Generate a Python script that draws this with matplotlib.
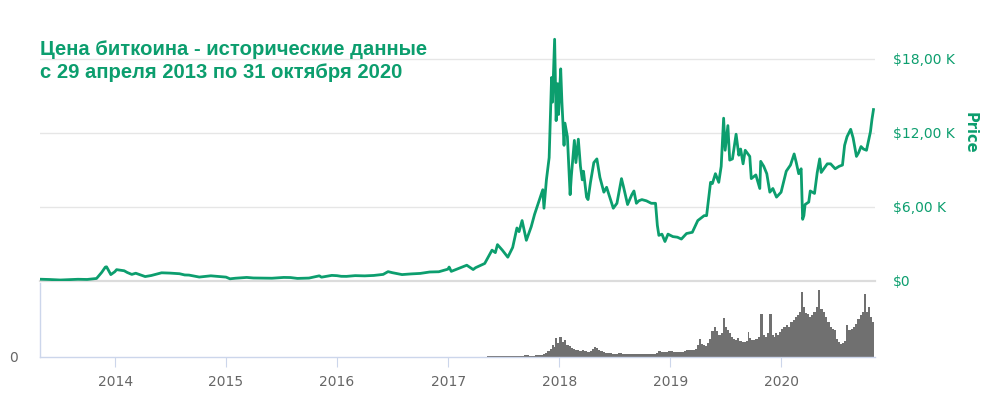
import pandas as pd
import matplotlib
matplotlib.use("Agg")
import matplotlib.pyplot as plt
import matplotlib.dates as mdates

GREEN = "#0c9e6e"
GRAY_TXT = "#666666"
AXIS_BLUE = "#ccd6eb"

# price points (USD)
price_dates = [
    "2013-04-29", "2013-06-01", "2013-07-05", "2013-08-01", "2013-09-01", "2013-10-01",
    "2013-11-01", "2013-11-18", "2013-11-30", "2013-12-04", "2013-12-18", "2013-12-31",
    "2014-01-06", "2014-01-31", "2014-02-10", "2014-02-25", "2014-03-10", "2014-04-10",
    "2014-04-30", "2014-06-03", "2014-07-01", "2014-08-01", "2014-08-18", "2014-09-01",
    "2014-10-05", "2014-11-12", "2014-12-01", "2015-01-01", "2015-01-14", "2015-02-01",
    "2015-03-10", "2015-04-01", "2015-05-01", "2015-06-01", "2015-07-10", "2015-08-01",
    "2015-08-24", "2015-09-15", "2015-10-01", "2015-11-04", "2015-11-11", "2015-12-15",
    "2016-01-01", "2016-01-15", "2016-02-01", "2016-03-01", "2016-04-01", "2016-05-01",
    "2016-06-01", "2016-06-17", "2016-07-01", "2016-08-02", "2016-09-01", "2016-10-01",
    "2016-11-01", "2016-12-01", "2016-12-31", "2017-01-04", "2017-01-11", "2017-02-01",
    "2017-03-03", "2017-03-24", "2017-04-01", "2017-05-01", "2017-05-25", "2017-06-05",
    "2017-06-12", "2017-06-28", "2017-07-16", "2017-08-01", "2017-08-15", "2017-08-22",
    "2017-09-01", "2017-09-15", "2017-10-01", "2017-10-12", "2017-10-20", "2017-11-08",
    "2017-11-12", "2017-11-20", "2017-11-29", "2017-12-07", "2017-12-10", "2017-12-17",
    "2017-12-22", "2017-12-27", "2017-12-30", "2018-01-06", "2018-01-10", "2018-01-17",
    "2018-01-20", "2018-01-28", "2018-02-06", "2018-02-10", "2018-02-20", "2018-02-25",
    "2018-03-05", "2018-03-12", "2018-03-18", "2018-03-22", "2018-04-01", "2018-04-06",
    "2018-04-14", "2018-04-25", "2018-05-05", "2018-05-15", "2018-05-28", "2018-06-06",
    "2018-06-28", "2018-07-10", "2018-07-25", "2018-08-01", "2018-08-14", "2018-08-28",
    "2018-09-04", "2018-09-12", "2018-09-20", "2018-09-30", "2018-10-15", "2018-10-31",
    "2018-11-14", "2018-11-20", "2018-11-25", "2018-12-05", "2018-12-15", "2018-12-25",
    "2019-01-10", "2019-01-25", "2019-02-07", "2019-02-24", "2019-03-15", "2019-04-02",
    "2019-04-23", "2019-05-01", "2019-05-14", "2019-05-20", "2019-05-30", "2019-06-10",
    "2019-06-18", "2019-06-26", "2019-07-01", "2019-07-10", "2019-07-16", "2019-07-25",
    "2019-08-06", "2019-08-15", "2019-08-21", "2019-08-29", "2019-09-05", "2019-09-20",
    "2019-09-25", "2019-10-10", "2019-10-23", "2019-10-26", "2019-11-05", "2019-11-15",
    "2019-11-25", "2019-12-05", "2019-12-17", "2020-01-01", "2020-01-18", "2020-02-01",
    "2020-02-13", "2020-02-20", "2020-02-28", "2020-03-07", "2020-03-12", "2020-03-16",
    "2020-03-20", "2020-04-01", "2020-04-06", "2020-04-20", "2020-04-29", "2020-05-07",
    "2020-05-12", "2020-06-01", "2020-06-12", "2020-06-27", "2020-07-10", "2020-07-21",
    "2020-07-28", "2020-08-05", "2020-08-17", "2020-08-25", "2020-09-05", "2020-09-12",
    "2020-09-20", "2020-09-28", "2020-10-08", "2020-10-15", "2020-10-21", "2020-10-26",
    "2020-10-31",
]
price_values = [
    145, 120, 80, 105, 140, 125,
    205, 700, 1130, 1150, 520, 750,
    920, 830, 690, 535, 630, 360,
    445, 665, 640, 590, 490, 480,
    320, 420, 380, 315, 178, 225,
    290, 245, 235, 225, 290, 280,
    210, 230, 238, 420, 310, 455,
    432, 380, 375, 435, 416, 450,
    535, 760, 675, 520, 575, 615,
    730, 750, 960, 1130, 780, 985,
    1280, 930, 1080, 1420, 2500, 2300,
    2950, 2500, 1930, 2720, 4300, 4000,
    4900, 3300, 4400, 5400, 6000, 7400,
    5900, 8200, 10000, 16500, 14500, 19600,
    13000, 16000, 13500, 17200, 14500, 11000,
    12800, 11700, 7000, 8500, 11400, 9600,
    11500, 9300, 8200, 8900, 6800, 6600,
    8000, 9600, 9900, 8400, 7200, 7600,
    5900, 6300, 8300, 7600, 6200, 7000,
    7300, 6300, 6500, 6600, 6500, 6300,
    6300, 4500, 3700, 3800, 3200, 3800,
    3600, 3550, 3400, 3850, 3950, 4900,
    5300, 5300, 8000, 7900, 8700, 8000,
    9300, 13200, 10600, 12600, 9800, 9900,
    11900, 10200, 10700, 9500, 10600, 10100,
    8300, 8600, 7500, 9700, 9300, 8700,
    7200, 7500, 6800, 7200, 8900, 9400,
    10300, 9600, 8700, 9100, 5000, 5300,
    6200, 6400, 7300, 7100, 8800, 9900,
    8800, 9500, 9500, 9100, 9300, 9400,
    11000, 11700, 12300, 11600, 10100, 10400,
    10900, 10700, 10600, 11400, 12100, 13100,
    13900,
]

# volume, a few bars per month (relative units)
vol_months = [
    "2017-04", "2017-05", "2017-06", "2017-07", "2017-08", "2017-09", "2017-10",
    "2017-11", "2017-12", "2018-01", "2018-02", "2018-03", "2018-04", "2018-05",
    "2018-06", "2018-07", "2018-08", "2018-09", "2018-10", "2018-11", "2018-12",
    "2019-01", "2019-02", "2019-03", "2019-04", "2019-05", "2019-06", "2019-07",
    "2019-08", "2019-09", "2019-10", "2019-11", "2019-12", "2020-01", "2020-02",
    "2020-03", "2020-04", "2020-05", "2020-06", "2020-07", "2020-08", "2020-09",
    "2020-10",
]
vol_values = [
    [0.3, 0.3, 0.4, 0.4], [0.5, 0.6, 0.8, 1.0], [1.2, 1.5, 1.0, 0.9],
    [0.8, 0.7, 1.0, 0.8], [1.0, 1.3, 1.5, 1.2], [1.2, 1.6, 1.8, 1.2],
    [1.3, 1.5, 1.8, 2.0, 1.8], [2.5, 3.5, 4, 6], [8, 12, 10, 19, 14],
    [20, 15, 17, 12], [11, 9, 8, 7], [7, 6, 7, 6], [5, 5, 6, 8, 10],
    [9, 7, 6, 5], [4.5, 4, 4, 3.5], [3.5, 3.5, 4.5, 4.5, 3.5],
    [3.5, 3.5, 3.2, 3.2], [3.5, 3.2, 3, 3], [3, 3, 2.8, 2.8, 3],
    [3, 3.5, 4.5, 6], [5, 5, 5.5, 5, 6], [6, 5.5, 5, 5], [5, 5.5, 6, 7],
    [7, 7, 7.5, 8], [12, 18, 13, 12, 11], [14, 18, 26, 30], [26, 22, 24, 39],
    [30, 27, 24, 20, 18], [17, 19, 16, 15], [15, 16, 25, 19, 17],
    [17, 18, 20, 43], [22, 20, 24, 43], [22, 20, 24, 22, 25],
    [28, 30, 32, 30], [35, 37, 40, 42], [45, 65, 50, 44, 43],
    [40, 42, 45, 50], [67, 48, 45, 40], [35, 30, 28, 27],
    [18, 15, 13, 14, 16], [32, 27, 28, 30], [33, 38, 42, 45],
    [63, 45, 50, 40, 35],
]

year_ticks = ["2014", "2015", "2016", "2017", "2018", "2019", "2020"]
price_ticks = [0, 6000, 12000, 18000]
price_tick_labels = ["$0", "$6,00 K", "$12,00 K", "$18,00 K"]

# build volume bar positions from the month lists
bar_x, bar_h, bar_w = [], [], []
for m, vals in zip(vol_months, vol_values):
    start = pd.Timestamp(m + "-01")
    days = start.days_in_month
    step = days / len(vals)
    for i, v in enumerate(vals):
        bar_x.append(start + pd.Timedelta(days=(i + 0.5) * step))
        bar_h.append(v)
        bar_w.append(step * 1.02)

fig = plt.figure(figsize=(10, 4.05), dpi=100)
ax = fig.add_axes([0.04, 1 - 281 / 405, 0.835, 251 / 405])
axv = fig.add_axes([0.04, 1 - 357 / 405, 0.835, 74 / 405], sharex=ax)

xmin = pd.Timestamp("2013-04-29")
xmax = pd.Timestamp("2020-11-05")

ax.plot(pd.to_datetime(price_dates), price_values, color=GREEN, lw=2.0,
        solid_joinstyle="round", zorder=3)
ax.set_xlim(xmin, xmax)
ax.set_ylim(0, 20350)
ax.set_yticks(price_ticks)
ax.set_yticklabels(price_tick_labels)
ax.yaxis.tick_right()
ax.tick_params(axis="y", length=0, pad=13, labelcolor=GREEN, labelsize=10)
ax.tick_params(axis="x", which="both", bottom=False, labelbottom=False)
for s in ["top", "left", "right"]:
    ax.spines[s].set_visible(False)
ax.spines["bottom"].set_color("#dcdcdc")
ax.spines["bottom"].set_linewidth(1.6)
for t in price_ticks[1:]:
    ax.axhline(t, color="#e6e6e6", lw=1, zorder=1)

axv.bar(bar_x, bar_h, width=bar_w, color="#707070", linewidth=0)
axv.set_ylim(0, 74)
axv.set_yticks([0])
axv.set_yticklabels(["0"])
axv.tick_params(axis="y", length=0, pad=16, labelcolor=GRAY_TXT, labelsize=10)
axv.set_xticks([pd.Timestamp(y + "-01-01") for y in year_ticks])
axv.xaxis.set_major_formatter(mdates.DateFormatter("%Y"))
axv.tick_params(axis="x", length=7, color=AXIS_BLUE, labelcolor=GRAY_TXT,
                labelsize=10, pad=6)
for s in ["top", "right"]:
    axv.spines[s].set_visible(False)
for s in ["left", "bottom"]:
    axv.spines[s].set_color(AXIS_BLUE)
    axv.spines[s].set_linewidth(1)
axv.set_xlim(xmin, xmax)

fig.text(0.04, 1 - 40 / 405,
         "Цена биткоина - исторические данные\nс 29 апреля 2013 по 31 октября 2020",
         color=GREEN, fontsize=14.6, fontweight="bold", family="Liberation Sans",
         va="top", ha="left", linespacing=1.3)
fig.text(0.970, 1 - 133 / 405, "Price", color=GREEN, fontsize=10.5,
         fontweight="bold", rotation=270, va="center", ha="center")

fig.savefig("out.png", dpi=100)
